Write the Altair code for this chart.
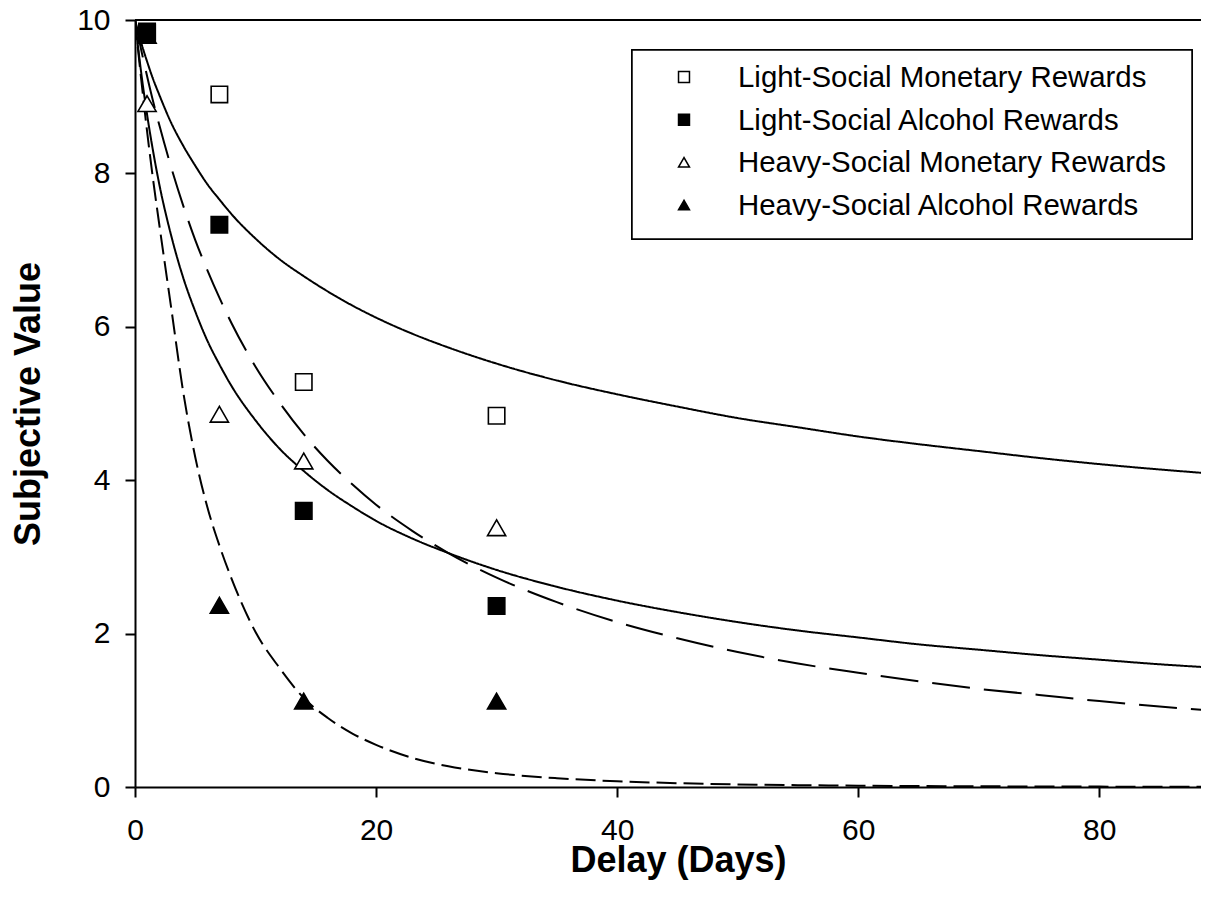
import altair as alt
import pandas as pd

series_names = [
    "Light-Social Monetary Rewards",
    "Light-Social Alcohol Rewards",
    "Heavy-Social Monetary Rewards",
    "Heavy-Social Alcohol Rewards",
]

# observed subjective values
point_delays = [1, 7, 14, 30]
lm_points = [9.85, 9.03, 5.28, 4.84]
la_points = [9.83, 7.33, 3.60, 2.36]
hm_points = [8.91, 4.86, 4.25, 3.38]
ha_points = [9.80, 2.37, 1.12, 1.12]

# fitted curves, values
curve_delays = [0, 0.5, 1, 1.5, 2, 3, 4, 5, 6, 7, 8, 10, 12, 14, 16, 18, 20,
                23, 26, 30, 35, 40, 45, 50, 55, 60, 65, 70, 75, 80, 85, 89]
lm_curve = [10, 9.71, 9.46, 9.23, 9.03, 8.66, 8.36, 8.10, 7.86, 7.66, 7.47, 7.15,
            6.88, 6.66, 6.46, 6.28, 6.12, 5.91, 5.73, 5.52, 5.30, 5.12, 4.96,
            4.81, 4.69, 4.57, 4.47, 4.38, 4.29, 4.21, 4.14, 4.09]
hm_curve = [10, 9.33, 8.77, 8.29, 7.87, 7.19, 6.64, 6.20, 5.82, 5.51, 5.23, 4.78,
            4.41, 4.12, 3.87, 3.66, 3.47, 3.24, 3.05, 2.83, 2.61, 2.43, 2.28,
            2.15, 2.04, 1.95, 1.86, 1.79, 1.72, 1.66, 1.60, 1.56]
la_curve = [10, 9.62, 9.27, 8.94, 8.64, 8.08, 7.58, 7.13, 6.74, 6.38, 6.05, 5.48,
            5.01, 4.60, 4.25, 3.95, 3.68, 3.34, 3.05, 2.73, 2.41, 2.15, 1.94,
            1.76, 1.61, 1.49, 1.38, 1.28, 1.20, 1.12, 1.05, 1.00]
ha_curve = [10, 9.25, 8.55, 7.92, 7.35, 6.25, 5.15, 4.30, 3.65, 3.15, 2.72, 2.02,
            1.55, 1.16, 0.90, 0.70, 0.55, 0.38, 0.27, 0.18, 0.115, 0.075, 0.05,
            0.034, 0.024, 0.017, 0.012, 0.009, 0.007, 0.005, 0.004, 0.003]

tri_rows = []
for name, vals in [(series_names[3], ha_points), (series_names[2], hm_points)]:
    for d, v in zip(point_delays, vals):
        tri_rows.append({"delay": d, "value": v, "series": name})
tri = pd.DataFrame(tri_rows)

sq_rows = []
for name, vals in [(series_names[0], lm_points), (series_names[1], la_points)]:
    for d, v in zip(point_delays, vals):
        sq_rows.append({"delay": d, "value": v, "series": name})
sq = pd.DataFrame(sq_rows)

cv_rows = []
for name, vals in zip(series_names, [lm_curve, la_curve, hm_curve, ha_curve]):
    for d, v in zip(curve_delays, vals):
        cv_rows.append({"delay": d, "value": v, "curve": name})
cv = pd.DataFrame(cv_rows)

legend_df = pd.DataFrame({"series": series_names})

FONT = "Liberation Sans"
W, H = 1066, 767
X_MAX = 88.44

x_scale = alt.Scale(domain=[0, X_MAX], nice=False, zero=False)
y_scale = alt.Scale(domain=[0, 10], nice=False)

x_axis = alt.Axis(values=[0, 20, 40, 60, 80], format="d", title="Delay (Days)",
                  grid=False, tickSize=10, tickWidth=2, domainWidth=2,
                  domainColor="black", tickColor="black", labelFontSize=30,
                  labelFont=FONT, labelColor="black", labelPadding=18,
                  labelFlush=False, titleFontSize=36, titleFont=FONT,
                  titleFontWeight="bold", titleColor="black", titleX=543,
                  titleY=73, titleBaseline="middle", titleAlign="center")
y_axis = alt.Axis(values=[0, 2, 4, 6, 8, 10], format="d", title="Subjective Value",
                  grid=False, tickSize=10, tickWidth=2, domainWidth=2,
                  domainColor="black", tickColor="black", labelFontSize=30,
                  labelFont=FONT, labelColor="black", labelPadding=15,
                  labelFlush=False, titleFontSize=36, titleFont=FONT,
                  titleFontWeight="bold", titleColor="black", titleX=-107,
                  titleY=H / 2, titleAngle=270, titleBaseline="middle",
                  titleAlign="center")

X = alt.X("delay:Q", scale=x_scale, axis=x_axis)
Y = alt.Y("value:Q", scale=y_scale, axis=y_axis)

shape_scale = alt.Scale(domain=series_names,
                        range=["square", "square", "triangle-up", "triangle-up"])
fill_scale = alt.Scale(domain=series_names, range=["white", "black", "white", "black"])

lines = alt.Chart(cv).mark_line(color="black", strokeWidth=2, interpolate="monotone",
                                clip=True).encode(
    x=X, y=Y,
    detail="curve:N",
    strokeDash=alt.StrokeDash("curve:N", legend=None,
                              scale=alt.Scale(domain=series_names,
                                              range=[[1, 0], [38, 14], [1, 0], [20, 7]])),
)

top_rule = alt.Chart(cv).mark_rule(color="black", strokeWidth=2).encode(
    x=alt.value(0), x2=alt.value(W), y=alt.value(0)
)

triangles = alt.Chart(tri).mark_point(filled=True, stroke="black", strokeWidth=1.6,
                                      opacity=1, size=330).encode(
    x=X, y=Y,
    shape=alt.Shape("series:N", scale=shape_scale, legend=None),
    fill=alt.Fill("series:N", scale=fill_scale, legend=None))

squares = alt.Chart(sq).mark_point(filled=True, stroke="black", strokeWidth=1.6,
                                   opacity=1, size=270).encode(
    x=X, y=Y,
    shape=alt.Shape("series:N", scale=shape_scale, legend=None),
    fill=alt.Fill("series:N", scale=fill_scale, legend=None))

plot = alt.layer(lines, top_rule, triangles, squares)

# legend (drawn as its own layer)
leg_y = alt.Y("series:N", scale=alt.Scale(type="point", domain=series_names,
                                          range=[57, 185], padding=0), axis=None)
leg_box = alt.Chart(legend_df).mark_rect(fill="white", stroke="black",
                                         strokeWidth=1.5).encode(
    x=alt.value(497), x2=alt.value(1057), y=alt.value(30), y2=alt.value(219))
leg_sym = alt.Chart(legend_df).mark_point(filled=True, stroke="black", strokeWidth=1.5,
                                          opacity=1, size=120).encode(
    x=alt.value(549), y=leg_y,
    shape=alt.Shape("series:N", scale=shape_scale, legend=None),
    fill=alt.Fill("series:N", scale=fill_scale, legend=None))
leg_txt = alt.Chart(legend_df).mark_text(align="left", baseline="middle", font=FONT,
                                         fontSize=29.4, color="black", dy=1).encode(
    x=alt.value(603), y=leg_y, text="series:N")
leg = alt.layer(leg_box, leg_sym, leg_txt)

chart = alt.layer(plot, leg).resolve_scale(y="independent").properties(
    width=W, height=H,
    padding={"left": 127, "top": 12, "right": 0, "bottom": 100},
    autosize=alt.AutoSizeParams(type="none"),
    background="white",
).configure_view(stroke=None)

chart.save("out.html", embed_options={"renderer": "svg", "actions": False})
